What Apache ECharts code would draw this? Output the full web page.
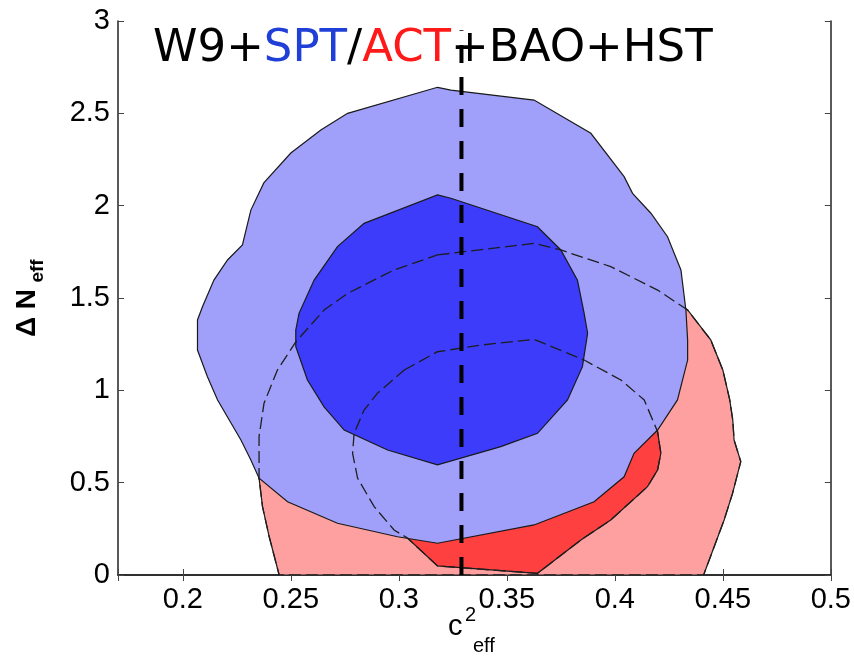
<!DOCTYPE html>
<html lang="en">
<head>
    <meta charset="UTF-8">
    <title>W9+SPT/ACT+BAO+HST</title>
    <script type="text/javascript" src="https://cdn.jsdelivr.net/npm/echarts@6/dist/echarts.min.js"></script>
    <style>
        html, body { margin: 0; padding: 0; background: #fff; }
        #main { width: 854px; height: 656px; }
    </style>
</head>
<body>
<div id="main"></div>
<script>
    // axis ranges and tick labels
    let xRange = [0.17, 0.5];
    let yRange = [0, 3];
    let xTickLabels = ['0.2', '0.25', '0.3', '0.35', '0.4', '0.45', '0.5'];

    // contours, points are [c2_eff, dN_eff]
    // SPT 95%
    let spt95 = [
        [0.3179, 2.641], [0.3241, 2.626], [0.3626, 2.572], [0.3889, 2.392], [0.4043, 2.157],
        [0.4082, 2.067], [0.4167, 1.959], [0.4244, 1.832], [0.4306, 1.652], [0.4329, 1.435],
        [0.4337, 1.273], [0.4337, 1.164], [0.4290, 0.948], [0.4198, 0.785], [0.4089, 0.659],
        [0.4043, 0.532], [0.3904, 0.397], [0.3626, 0.271], [0.3179, 0.172], [0.2994, 0.207],
        [0.2716, 0.280], [0.2485, 0.397], [0.2353, 0.524], [0.2315, 0.623], [0.2269, 0.731],
        [0.2161, 0.948], [0.2114, 1.074], [0.2068, 1.218], [0.2068, 1.381], [0.2091, 1.453],
        [0.2144, 1.597], [0.2207, 1.706], [0.2276, 1.787], [0.2315, 1.976], [0.2375, 2.123],
        [0.2500, 2.285], [0.2639, 2.410], [0.2763, 2.500]
    ];
    // SPT 68%
    let spt68 = [
        [0.3179, 2.058], [0.3241, 2.040], [0.3642, 1.886], [0.3750, 1.760], [0.3827, 1.597],
        [0.3858, 1.417], [0.3874, 1.309], [0.3850, 1.128], [0.3781, 0.948], [0.3642, 0.767],
        [0.3472, 0.695], [0.3179, 0.596], [0.2948, 0.677], [0.2747, 0.785], [0.2654, 0.911],
        [0.2577, 1.056], [0.2523, 1.236], [0.2523, 1.327], [0.2538, 1.417], [0.2608, 1.597],
        [0.2716, 1.778], [0.2839, 1.904]
    ];
    // ACT 95%
    let act95 = [
        [0.3179, 1.733], [0.3241, 1.742], [0.3626, 1.796], [0.3750, 1.760], [0.3981, 1.670],
        [0.4198, 1.543], [0.4337, 1.435], [0.4444, 1.273], [0.4500, 1.110], [0.4532, 0.948],
        [0.4546, 0.839], [0.4552, 0.731], [0.4583, 0.614], [0.4545, 0.442], [0.4506, 0.298],
        [0.4411, 0.000], [0.2446, 0.000], [0.2400, 0.207], [0.2369, 0.370], [0.2353, 0.524],
        [0.2353, 0.749], [0.2376, 0.930], [0.2438, 1.110], [0.2523, 1.262], [0.2654, 1.435],
        [0.2763, 1.525], [0.2978, 1.652]
    ];
    // ACT 68%
    let act68 = [
        [0.3025, 1.110], [0.3179, 1.209], [0.3380, 1.245], [0.3626, 1.276], [0.3858, 1.164],
        [0.4028, 1.056], [0.4136, 0.948], [0.4198, 0.776], [0.4213, 0.659], [0.4198, 0.569],
        [0.4151, 0.478], [0.3981, 0.298], [0.3843, 0.190], [0.3642, 0.009], [0.3179, 0.049],
        [0.3040, 0.200], [0.2978, 0.244], [0.2886, 0.370], [0.2809, 0.525], [0.2786, 0.659],
        [0.2793, 0.767], [0.2839, 0.893], [0.2901, 0.984]
    ];
    // c2_eff = 1/3
    let cLine = [[0.329, 0], [0.329, 2.95]];

    function polygon(points, style) {
        return {
            type: 'custom',
            coordinateSystem: 'cartesian2d',
            silent: true,
            clip: true,
            data: points,
            renderItem: function (params, api) {
                if (params.dataIndex !== 0) return null;
                return {
                    type: 'polygon',
                    shape: {points: points.map(function (p) { return api.coord(p); })},
                    style: style
                };
            }
        };
    }

    var solid = {stroke: '#1a1a1a', lineWidth: 1.2};
    var dashed = {fill: 'none', stroke: '#1e1e1e', lineWidth: 1.3, lineDash: [12, 5]};

    var axisLine = {show: true, lineStyle: {color: '#222', width: 1.5}};
    var axisTick = {show: true, inside: true, length: 6, lineStyle: {color: '#444', width: 1}};
    var labelFont = {fontFamily: 'Liberation Sans', fontSize: 29, color: '#000'};

    function xAxis(pos, showLabel) {
        return {
            type: 'value', position: pos, min: xRange[0], max: xRange[1], splitNumber: 6,
            axisLine: axisLine, axisTick: axisTick, splitLine: {show: false},
            axisLabel: Object.assign({
                show: showLabel, margin: 10,
                formatter: function (v) {
                    var s = String(+v.toFixed(2));
                    return xTickLabels.indexOf(s) >= 0 ? s : '';
                }
            }, labelFont)
        };
    }
    function yAxis(pos, showLabel) {
        return {
            type: 'value', position: pos, min: yRange[0], max: yRange[1], interval: 0.5,
            axisLine: axisLine, axisTick: axisTick, splitLine: {show: false},
            axisLabel: Object.assign({show: showLabel, margin: 8}, labelFont)
        };
    }

    var myChart = echarts.init(document.getElementById('main'));
    var option = {
        animation: false,
        backgroundColor: '#fff',
        grid: {left: 118, right: 23, top: 21, bottom: 81},
        xAxis: [xAxis('bottom', true), xAxis('top', false)],
        yAxis: [yAxis('left', true), yAxis('right', false)],
        graphic: [
            {   // title
                type: 'text', left: 153, top: 27, z: 100,
                style: {
                    text: '{k|W9+}{b|SPT}{k|/}{r|ACT}{k|+BAO+HST}',
                    rich: {
                        k: {fontFamily: 'DejaVu Sans', fontSize: 45, fill: '#000'},
                        b: {fontFamily: 'DejaVu Sans', fontSize: 45, fill: '#1f3fd6'},
                        r: {fontFamily: 'DejaVu Sans', fontSize: 45, fill: '#ff1a1a'}
                    }
                }
            },
            {type: 'text', x: 448, y: 627, style: {text: 'c', font: '29px Liberation Sans', fill: '#000', align: 'left', verticalAlign: 'middle'}},
            {type: 'text', x: 465, y: 615, style: {text: '2', font: '20px Liberation Sans', fill: '#000', align: 'left', verticalAlign: 'middle'}},
            {type: 'text', x: 473, y: 646, style: {text: 'eff', font: '20px Liberation Sans', fill: '#000', align: 'left', verticalAlign: 'middle'}},
            {type: 'text', x: 27, y: 313, rotation: Math.PI / 2, style: {text: 'Δ N', font: 'bold 28px Liberation Sans', fill: '#000', align: 'center', verticalAlign: 'middle'}},
            {type: 'text', x: 38, y: 271, rotation: Math.PI / 2, style: {text: 'eff', font: 'bold 19px Liberation Sans', fill: '#000', align: 'center', verticalAlign: 'middle'}}
        ],
        series: [
            polygon(act95, Object.assign({fill: '#ffa0a0'}, solid)),
            polygon(act68, Object.assign({fill: '#ff4040'}, solid)),
            polygon(spt95, Object.assign({fill: '#a0a0fa'}, solid)),
            polygon(spt68, Object.assign({fill: '#3c3cfa'}, solid)),
            polygon(act95, dashed),
            polygon(act68, dashed),
            {
                type: 'line', data: cLine, symbol: 'none', silent: true, z: 5,
                lineStyle: {color: '#000', width: 4, type: [18, 14]}
            }
        ]
    };
    myChart.setOption(option);
</script>
</body>
</html>
